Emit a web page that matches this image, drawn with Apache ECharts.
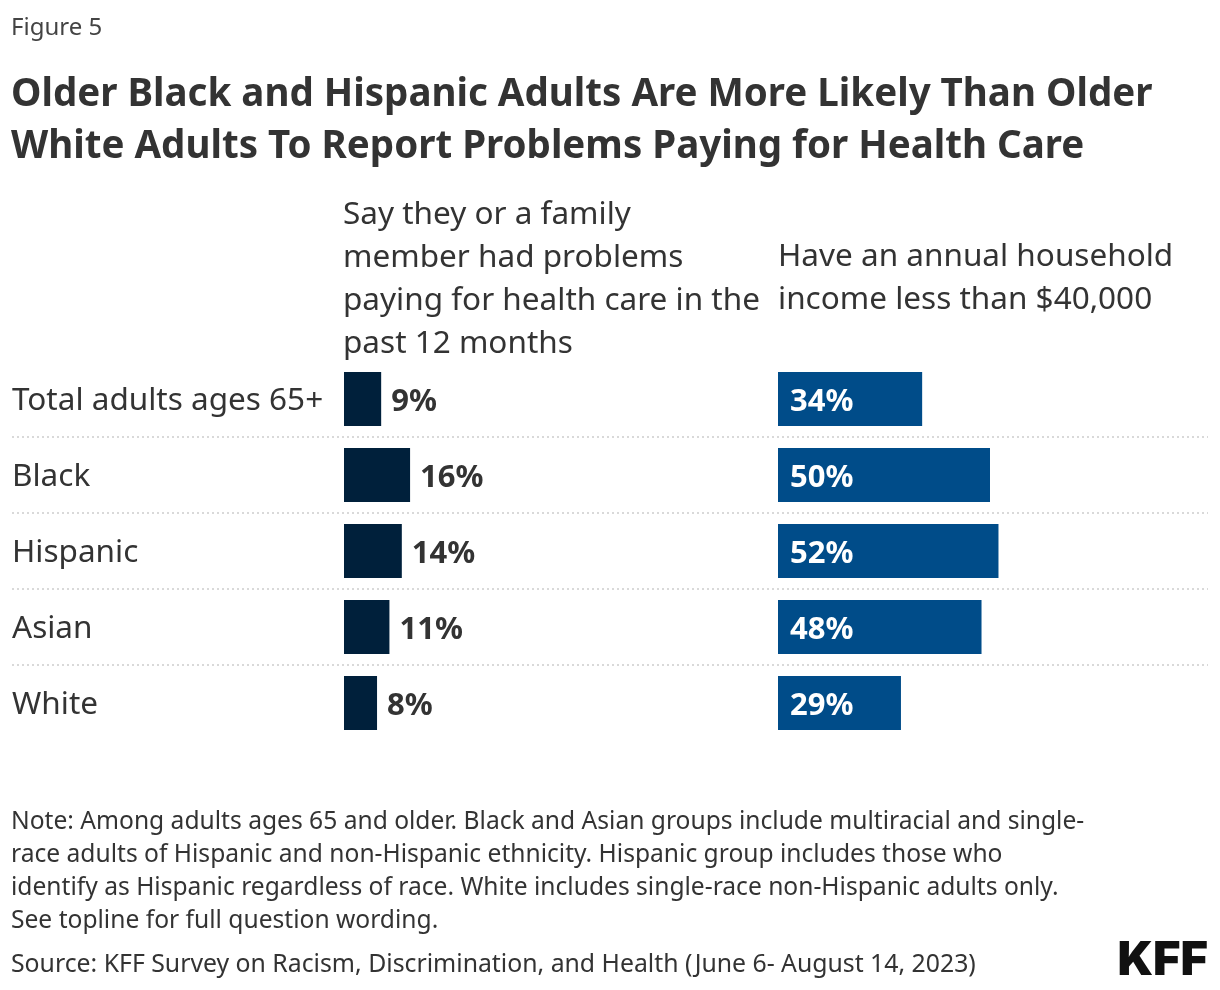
<!DOCTYPE html>
<html>
<head>
<meta charset="utf-8">
<script src="https://cdn.jsdelivr.net/npm/echarts@6/dist/echarts.min.js"></script>
<style>
html,body{margin:0;padding:0;background:#fff;}
#chart{width:1220px;height:990px;}
</style>
</head>
<body>
<div id="chart"></div>
<script>
const categories = ['Total adults ages 65+', 'Black', 'Hispanic', 'Asian', 'White'];
const problemsPaying = [9, 16, 14, 11, 8];
const incomeUnder40k = [34, 50, 52, 48, 29];
const headerLeft = 'Say they or a family\nmember had problems\npaying for health care in the\npast 12 months';
const headerRight = 'Have an annual household\nincome less than $40,000';
const figureLabel = 'Figure 5';
const mainTitle = 'Older Black and Hispanic Adults Are More Likely Than Older\nWhite Adults To Report Problems Paying for Health Care';
const noteText = 'Note: Among adults ages 65 and older. Black and Asian groups include multiracial and single-\nrace adults of Hispanic and non-Hispanic ethnicity. Hispanic group includes those who\nidentify as Hispanic regardless of race. White includes single-race non-Hispanic adults only.\nSee topline for full question wording.';
const sourceText = 'Source: KFF Survey on Racism, Discrimination, and Health (June 6- August 14, 2023)';

const FONT = 'Noto Sans';
const TXT = '#333333';
const GRID_TOP = 361, GRID_H = 380;

const chart = echarts.init(document.getElementById('chart'), null, {renderer: 'canvas'});
chart.setOption({
  backgroundColor: '#ffffff',
  animation: false,
  title: [
    {text: figureLabel, left: 11, top: 16, padding: 0, textStyle: {fontFamily: FONT, fontSize: 24, fontWeight: 'normal', color: '#444'}},
    {text: mainTitle, left: 11, top: 69, padding: 0, textStyle: {fontFamily: FONT, fontSize: 38.5, fontWeight: 'bold', color: TXT, lineHeight: 52}},
    {text: headerLeft, left: 343, top: 194, padding: 0, textStyle: {fontFamily: FONT, fontSize: 31.5, fontWeight: 'normal', color: TXT, lineHeight: 43}},
    {text: headerRight, left: 778, top: 236, padding: 0, textStyle: {fontFamily: FONT, fontSize: 31.5, fontWeight: 'normal', color: TXT, lineHeight: 43}},
    {text: noteText, left: 11, top: 805, padding: 0, textStyle: {fontFamily: FONT, fontSize: 24.6, fontWeight: 'normal', color: TXT, lineHeight: 33}},
    {text: sourceText, left: 11, top: 948, padding: 0, textStyle: {fontFamily: FONT, fontSize: 24.8, fontWeight: 'normal', color: TXT, lineHeight: 33}},
    {text: 'KFF', right: 12, top: 937, padding: 0, textStyle: {fontFamily: 'Inter', fontSize: 47, fontWeight: 900, color: '#111'}}
  ],
  grid: [
    {left: 12, right: 12, top: GRID_TOP, height: GRID_H},
    {left: 344, width: 413, top: GRID_TOP, height: GRID_H},
    {left: 778, width: 424, top: GRID_TOP, height: GRID_H}
  ],
  xAxis: [
    {gridIndex: 0, type: 'value', min: 0, max: 100, show: false},
    {gridIndex: 1, type: 'value', min: 0, max: 100, show: false},
    {gridIndex: 2, type: 'value', min: 0, max: 100, show: false}
  ],
  yAxis: [
    {gridIndex: 0, type: 'category', data: categories, inverse: true,
     axisLine: {show: false}, axisTick: {show: false}, axisLabel: {show: false},
     splitLine: {show: true, showMinLine: false, showMaxLine: false,
       lineStyle: {color: '#d9d9d9', width: 2, type: [2, 3]}}},
    {gridIndex: 1, type: 'category', data: categories, inverse: true,
     axisLine: {show: false}, axisTick: {show: false}, splitLine: {show: false},
     axisLabel: {align: 'left', margin: 332, formatter: v => '{c|' + v + '}',
       rich: {c: {fontFamily: FONT, fontSize: 31.5, color: TXT, padding: [5, 0, 0, 0]}}}},
    {gridIndex: 2, type: 'category', data: categories, inverse: true,
     axisLine: {show: false}, axisTick: {show: false}, splitLine: {show: false}, axisLabel: {show: false}}
  ],
  series: [
    {type: 'bar', xAxisIndex: 1, yAxisIndex: 1, data: problemsPaying, barWidth: 54,
     itemStyle: {color: '#00203b'},
     label: {show: true, position: 'right', distance: 10, offset: [0, 3], formatter: '{c}%',
       fontFamily: FONT, fontSize: 31, fontWeight: 'bold', color: TXT}},
    {type: 'bar', xAxisIndex: 2, yAxisIndex: 2, data: incomeUnder40k, barWidth: 54,
     itemStyle: {color: '#004c89'},
     label: {show: true, position: 'insideLeft', distance: 12, offset: [0, 3], formatter: '{c}%',
       fontFamily: FONT, fontSize: 31, fontWeight: 'bold', color: '#ffffff'}}
  ]
});
</script>
</body>
</html>
